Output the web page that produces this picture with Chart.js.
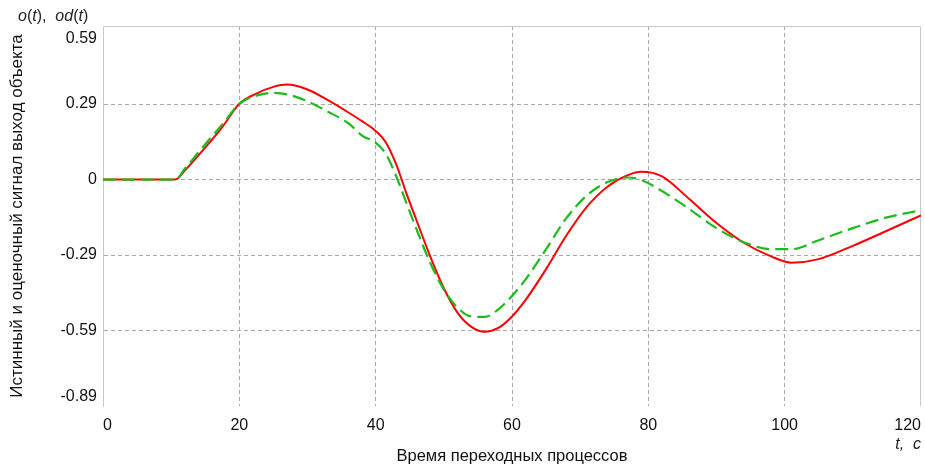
<!DOCTYPE html>
<html>
<head>
<meta charset="utf-8">
<script src="https://cdn.jsdelivr.net/npm/chart.js@4.4.1/dist/chart.umd.min.js"></script>
<style>
  html, body { margin: 0; padding: 0; background: #fff; }
  #wrap { width: 925px; height: 466px; }
</style>
</head>
<body>
<div id="wrap"><canvas id="mChart" width="925" height="466"></canvas></div>
<script>
// time, s
const tValues = [0, 5, 10, 10.6, 12, 15, 17.5, 20, 22.5, 25, 27, 30, 33, 36, 38, 40, 41.5, 43, 44.5, 46, 48, 50, 52, 54, 56, 58, 60, 62, 65, 68, 71, 74, 77, 79, 82, 86, 90, 94, 98, 101, 105, 110, 115, 120];
// true output o(t)
const trueOut = [0, 0, 0, 0, 0.035, 0.125, 0.205, 0.296, 0.336, 0.362, 0.371, 0.352, 0.31, 0.262, 0.228, 0.19, 0.145, 0.06, -0.053, -0.16, -0.30, -0.425, -0.52, -0.575, -0.595, -0.58, -0.535, -0.47, -0.35, -0.218, -0.106, -0.028, 0.017, 0.03, 0.012, -0.076, -0.17, -0.247, -0.30, -0.325, -0.311, -0.259, -0.2, -0.14];
// estimated output od(t)
const estOut = [0, 0, 0, 0, 0.042, 0.138, 0.215, 0.296, 0.328, 0.339, 0.333, 0.306, 0.265, 0.22, 0.172, 0.144, 0.10, 0.014, -0.09, -0.195, -0.325, -0.43, -0.50, -0.535, -0.537, -0.507, -0.455, -0.39, -0.272, -0.15, -0.062, -0.01, 0.008, -0.002, -0.045, -0.115, -0.19, -0.245, -0.272, -0.272, -0.237, -0.19, -0.148, -0.12];

const yTickValues = [-0.885, -0.59, -0.295, 0, 0.295, 0.59];
const yTickLabels = ['-0.89', '-0.59', '-0.29', '0', '0.29', '0.59'];

const FONT = "'Liberation Sans', Arial, sans-serif";
const gridColor = '#a8a8a8';
const frameColor = '#c8c8c8';

function pts(vals) {
    return tValues.map((t, i) => ({ x: t, y: vals[i] }));
}

// top + right frame lines and the axis unit captions
const extras = {
    id: 'extras',
    beforeDatasetsDraw(chart) {
        const a = chart.chartArea, c = chart.ctx;
        c.save();
        c.strokeStyle = frameColor;
        c.lineWidth = 1;
        c.beginPath();
        c.moveTo(a.left, a.top + 0.5);
        c.lineTo(a.right - 0.5, a.top + 0.5);
        c.lineTo(a.right - 0.5, a.bottom);
        c.stroke();
        c.restore();
    },
    afterDraw(chart) {
        const c = chart.ctx, a = chart.chartArea;
        c.save();
        c.fillStyle = '#222';
        c.textBaseline = 'alphabetic';
        let x = 18;
        const parts = [['o', 1], ['(', 0], ['t', 1], ['),  ', 0], ['od', 1], ['(', 0], ['t', 1], [')', 0]];
        parts.forEach(p => {
            c.font = (p[1] ? 'italic ' : '') + '16px ' + FONT;
            c.fillText(p[0], x, 21);
            x += c.measureText(p[0]).width;
        });
        c.font = 'italic 16px ' + FONT;
        c.textAlign = 'right';
        c.fillText('t,  c', a.right, 449);
        c.restore();
    }
};

var ct = document.getElementById('mChart').getContext('2d');

var mChart = new Chart(ct, {
    type: 'line',
    data: {
        datasets: [{
            label: 'od(t)',
            data: pts(estOut),
            borderColor: '#1cbc1c',
            borderWidth: 2.2,
            borderDash: [13, 6],
            pointRadius: 0,
            cubicInterpolationMode: 'monotone',
            fill: false
        }, {
            label: 'o(t)',
            data: pts(trueOut),
            borderColor: '#ff0000',
            borderWidth: 2,
            pointRadius: 0,
            cubicInterpolationMode: 'monotone',
            fill: false
        }]
    },
    options: {
        responsive: false,
        animation: false,
        layout: { padding: { top: 26, right: 4, left: 0, bottom: 0 } },
        plugins: {
            legend: { display: false },
            tooltip: { enabled: false }
        },
        scales: {
            x: {
                type: 'linear',
                min: 0,
                max: 120,
                afterFit: (s) => { s.height = 60; s.paddingLeft = 0; s.paddingRight = 0; },
                ticks: {
                    stepSize: 20,
                    align: 'inner',
                    padding: 10,
                    color: '#111',
                    font: { family: FONT, size: 16 }
                },
                grid: {
                    drawTicks: false,
                    color: (ctx) => (ctx.index === 0 || ctx.index === 6) ? 'transparent' : gridColor
                },
                border: { display: false, dash: [4, 3] },
                title: {
                    display: true,
                    text: 'Время переходных процессов',
                    color: '#111',
                    font: { family: FONT, size: 16.5 },
                    padding: { top: 0, bottom: 0 }
                }
            },
            y: {
                min: -0.885,
                max: 0.60,
                afterFit: (s) => { s.width = 103; },
                afterBuildTicks: (s) => { s.ticks = yTickValues.map(v => ({ value: v })); },
                ticks: {
                    padding: 6,
                    color: '#111',
                    font: { family: FONT, size: 16 },
                    callback: (v, i) => {
                        if (i === 0) return [yTickLabels[i], ''];
                        if (i === yTickLabels.length - 1) return ['', yTickLabels[i]];
                        return yTickLabels[i];
                    }
                },
                grid: {
                    drawTicks: false,
                    color: (ctx) => (ctx.index === 0 || ctx.index === yTickValues.length - 1) ? 'transparent' : gridColor
                },
                border: { display: true, color: frameColor, dash: [4, 3] },
                title: {
                    display: true,
                    text: 'Истинный и оценочный сигнал выход объекта',
                    color: '#111',
                    font: { family: FONT, size: 17 },
                    padding: { top: 7, bottom: 0 }
                }
            }
        }
    },
    plugins: [extras]
});
</script>
</body>
</html>
